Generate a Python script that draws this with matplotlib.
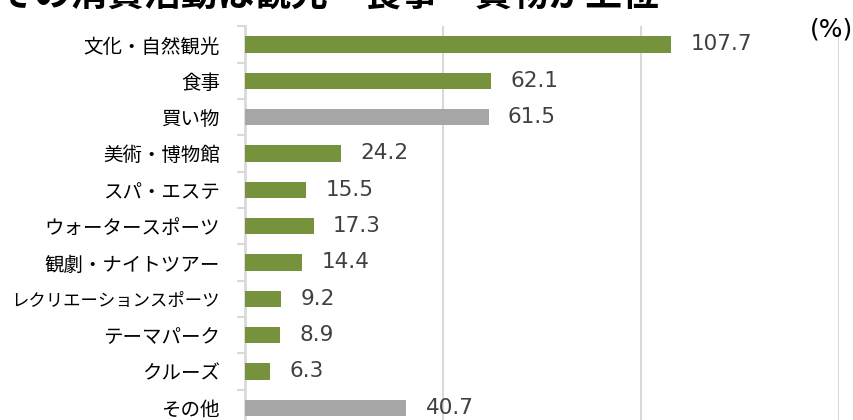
import matplotlib
matplotlib.use("Agg")
import matplotlib.pyplot as plt
import numpy as np

categories = ["文化・自然観光", "食事", "買い物", "美術・博物館", "スパ・エステ",
              "ウォータースポーツ", "観劇・ナイトツアー", "レクリエーションスポーツ",
              "テーマパーク", "クルーズ", "その他"]
values = [107.7, 62.1, 61.5, 24.2, 15.5, 17.3, 14.4, 9.2, 8.9, 6.3, 40.7]
highlight = [True, True, False, True, True, True, True, True, True, True, False]
title_text = "その消費活動は観光・食事・買物が上位"
unit_text = "(%)"

GREEN = "#76923C"
GREY = "#A6A6A6"

plt.rcParams['font.family'] = ['Noto Sans CJK JP', 'DejaVu Sans']

fig = plt.figure(figsize=(8.54, 4.2), dpi=100)
W, H = 854, 420
left, right = 245, 839
top, bottom = 26.3, 426
ax = fig.add_axes([left / W, (H - bottom) / H, (right - left) / W, (bottom - top) / H])

y = np.arange(len(categories))
colors = [GREEN if h else GREY for h in highlight]
ax.barh(y, values, height=0.45, color=colors, zorder=3)

ax.set_ylim(len(categories) - 0.5, -0.5)
ax.set_xlim(0, 150)
ax.set_xticks([50, 100, 150])
ax.xaxis.grid(True, color="#D9D9D9", linewidth=1.5, zorder=0)
ax.tick_params(axis='x', which='both', bottom=False, labelbottom=False)

ax.set_yticks(y)
ax.set_yticklabels(categories, fontsize=14, color="#000000")
for lbl in ax.get_yticklabels():
    if len(lbl.get_text()) > 10:
        lbl.set_fontsize(12.5)
ax.tick_params(axis='y', which='major', length=0, pad=18)
ax.set_yticks(np.arange(len(categories) + 1) - 0.5, minor=True)
ax.tick_params(axis='y', which='minor', length=6, width=1.5, color="#D9D9D9")

for s in ["top", "right", "bottom"]:
    ax.spines[s].set_visible(False)
ax.spines["left"].set_color("#D9D9D9")
ax.spines["left"].set_linewidth(2)

for yi, v in zip(y, values):
    ax.annotate(f"{v:.1f}", xy=(v, yi), xytext=(14, 0), textcoords="offset points",
                va="center", ha="left", fontsize=15.5, color="#404040",
                family="DejaVu Sans")

fig.text(-0.003, 1 - 7 / H, title_text, fontsize=26.5, fontweight="bold",
         ha="left", va="baseline", color="#000000")
fig.text(853 / W, 1 - 29 / H, unit_text, fontsize=18, ha="right", va="center",
         color="#000000", family="DejaVu Sans")

fig.savefig("out.png", dpi=100)
